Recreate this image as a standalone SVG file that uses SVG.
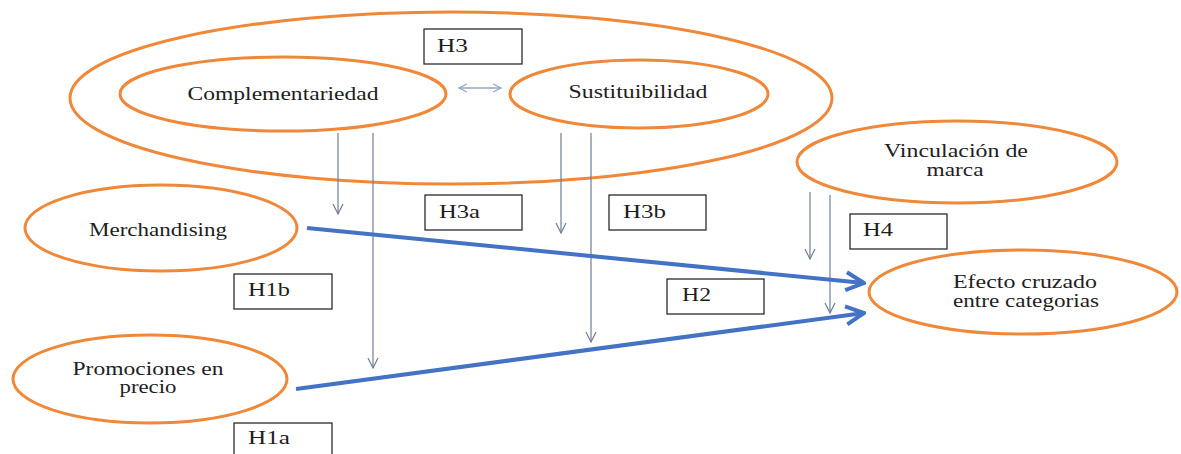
<svg xmlns="http://www.w3.org/2000/svg" width="1181" height="454" viewBox="0 0 1181 454">
  <style>
    .node { fill: none; stroke: #F0883A; stroke-width: 3; }
    .box { fill: #ffffff; stroke: #1a1a1a; stroke-width: 1.2; }
    .lbl { font-family: "Liberation Serif", "Times New Roman", serif; font-size: 18px; fill: #1e1e1e; }
    .mid { text-anchor: middle; }
    .thin { stroke: #6F7F93; stroke-width: 1.2; fill: none; }
    .main { stroke: #4472C4; stroke-width: 4; fill: none; }
    .dbl { stroke: #8FAAC3; stroke-width: 1.3; fill: none; }
  </style>
  <defs>
    <marker id="thinHead" viewBox="0 0 12 12" refX="11" refY="6" markerWidth="12" markerHeight="12" markerUnits="userSpaceOnUse" orient="auto">
      <path d="M1,1 L11,6 L1,11" fill="none" stroke="#6F7F93" stroke-width="1.2"/>
    </marker>
    <marker id="mainHead" viewBox="0 0 24 24" refX="22" refY="12" markerWidth="24" markerHeight="24" markerUnits="userSpaceOnUse" orient="auto">
      <path d="M4,3 L22,12 L4,21" fill="none" stroke="#4472C4" stroke-width="4" stroke-linejoin="miter"/>
    </marker>
    <marker id="dblHead" viewBox="0 0 10 10" refX="9" refY="5" markerWidth="10" markerHeight="10" markerUnits="userSpaceOnUse" orient="auto-start-reverse">
      <path d="M1,1 L9,5 L1,9" fill="none" stroke="#8FAAC3" stroke-width="1.3"/>
    </marker>
  </defs>

  <rect width="1181" height="454" fill="#ffffff"/>

  <!-- group holding both category relations -->
  <g id="n-categorias">
    <ellipse class="node" cx="451" cy="98" rx="381" ry="86"/>
  </g>

  <g id="n-complementariedad">
    <ellipse class="node" cx="283" cy="94" rx="163" ry="37"/>
    <text class="lbl mid" x="283" y="100" textLength="191" lengthAdjust="spacingAndGlyphs">Complementariedad</text>
  </g>

  <g id="n-sustituibilidad">
    <ellipse class="node" cx="639" cy="94" rx="129" ry="34"/>
    <text class="lbl mid" x="638" y="98" textLength="139" lengthAdjust="spacingAndGlyphs">Sustituibilidad</text>
  </g>

  <g id="n-merchandising">
    <ellipse class="node" cx="161" cy="228" rx="136" ry="43"/>
    <text class="lbl mid" x="158" y="236" textLength="138" lengthAdjust="spacingAndGlyphs">Merchandising</text>
  </g>

  <g id="n-promociones">
    <ellipse class="node" cx="150" cy="379" rx="137" ry="44"/>
    <text class="lbl mid" x="148" y="375" textLength="151" lengthAdjust="spacingAndGlyphs">Promociones en</text>
    <text class="lbl mid" x="148" y="393" textLength="57" lengthAdjust="spacingAndGlyphs">precio</text>
  </g>

  <g id="n-vinculacion">
    <ellipse class="node" cx="957" cy="162" rx="160" ry="41"/>
    <text class="lbl mid" x="956" y="157" textLength="144" lengthAdjust="spacingAndGlyphs">Vinculación de</text>
    <text class="lbl mid" x="955" y="176" textLength="57" lengthAdjust="spacingAndGlyphs">marca</text>
  </g>

  <g id="n-efecto">
    <ellipse class="node" cx="1023" cy="292" rx="154" ry="42"/>
    <text class="lbl mid" x="1025" y="288" textLength="144" lengthAdjust="spacingAndGlyphs">Efecto cruzado</text>
    <text class="lbl mid" x="1026" y="307" textLength="146" lengthAdjust="spacingAndGlyphs">entre categorias</text>
  </g>

  <!-- connectors -->
  <g id="connectors">
    <line class="dbl" x1="459" y1="88" x2="501" y2="88" marker-start="url(#dblHead)" marker-end="url(#dblHead)"/>
    <line class="thin" x1="338" y1="133" x2="338" y2="214" marker-end="url(#thinHead)"/>
    <line class="thin" x1="373" y1="133" x2="373" y2="368" marker-end="url(#thinHead)"/>
    <line class="thin" x1="561" y1="133" x2="561" y2="233" marker-end="url(#thinHead)"/>
    <line class="thin" x1="591" y1="133" x2="591" y2="342" marker-end="url(#thinHead)"/>
    <line class="thin" x1="810" y1="192" x2="810" y2="259" marker-end="url(#thinHead)"/>
    <line class="thin" x1="830" y1="195" x2="830" y2="313" marker-end="url(#thinHead)"/>
    <line class="main" x1="307" y1="228" x2="864" y2="283" marker-end="url(#mainHead)"/>
    <line class="main" x1="296" y1="389" x2="864" y2="313" marker-end="url(#mainHead)"/>
  </g>

  <!-- hypothesis labels -->
  <g id="h3">
    <rect class="box" x="424" y="29" width="98" height="35"/>
    <text class="lbl" x="437" y="52" textLength="31" lengthAdjust="spacingAndGlyphs">H3</text>
  </g>
  <g id="h3a">
    <rect class="box" x="425" y="195" width="97" height="35"/>
    <text class="lbl" x="439" y="218" textLength="41" lengthAdjust="spacingAndGlyphs">H3a</text>
  </g>
  <g id="h3b">
    <rect class="box" x="609" y="195" width="97" height="35"/>
    <text class="lbl" x="623" y="218" textLength="43" lengthAdjust="spacingAndGlyphs">H3b</text>
  </g>
  <g id="h4">
    <rect class="box" x="850" y="214" width="97" height="35"/>
    <text class="lbl" x="863" y="236" textLength="30" lengthAdjust="spacingAndGlyphs">H4</text>
  </g>
  <g id="h2">
    <rect class="box" x="667" y="279" width="97" height="35"/>
    <text class="lbl" x="682" y="301" textLength="29" lengthAdjust="spacingAndGlyphs">H2</text>
  </g>
  <g id="h1b">
    <rect class="box" x="234" y="274" width="98" height="35"/>
    <text class="lbl" x="248" y="296" textLength="42" lengthAdjust="spacingAndGlyphs">H1b</text>
  </g>
  <g id="h1a">
    <rect class="box" x="234" y="423" width="98" height="36"/>
    <text class="lbl" x="248" y="444" textLength="42" lengthAdjust="spacingAndGlyphs">H1a</text>
  </g>
</svg>
